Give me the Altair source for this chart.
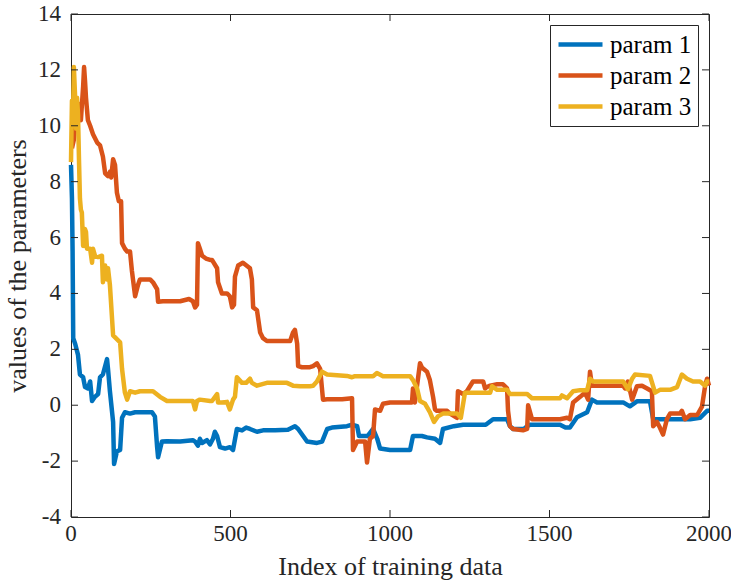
import altair as alt
import pandas as pd

# Parameter traces over the training index (step-like estimates)
p1_x = [0, 3, 5, 7, 13, 22, 28, 38, 44, 53, 60, 66, 75, 85, 91, 100, 113, 116, 122, 132, 135, 144, 154, 160,
        169, 185, 201, 223, 254, 263, 270, 273, 285, 300, 342, 382, 389, 398, 404, 411, 426, 436, 445, 451,
        458, 467, 483, 498, 508, 520, 536, 549, 561, 583, 602, 640, 680, 702, 712, 740, 771, 787, 803, 818,
        865, 881, 897, 903, 930, 947, 960, 969, 1000, 1063, 1072, 1100, 1116, 1141, 1157, 1166, 1200, 1229,
        1260, 1300, 1323, 1367, 1376, 1386, 1420, 1430, 1439, 1533, 1550, 1564, 1586, 1618, 1633, 1649,
        1731, 1752, 1774, 1815, 1825, 1846, 1941, 1972, 1994, 2000]
p1_y = [8.6, 7.4, 5.5, 2.4, 2.2, 1.8, 1.1, 1.0, 0.65, 0.6, 0.85, 0.15, 0.3, 0.4, 1.0, 1.1, 1.65, 1.3, 0.5,
        -0.6, -2.1, -1.65, -1.6, -0.45, -0.25, -0.3, -0.25, -0.25, -0.25, -0.4, -1.5, -1.86, -1.3, -1.29,
        -1.3, -1.25, -1.3, -1.45, -1.2, -1.35, -1.25, -1.4, -1.2, -0.95, -1.1, -1.5, -1.55, -1.5, -1.6,
        -0.85, -0.9, -0.8, -0.85, -0.95, -0.9, -0.9, -0.88, -0.75, -0.85, -1.3, -1.35, -1.3, -0.85, -0.8,
        -0.75, -0.7, -0.75, -1.1, -1.1, -0.85, -1.2, -1.55, -1.6, -1.6, -1.1, -1.1, -1.15, -1.2, -1.35,
        -0.85, -0.75, -0.7, -0.7, -0.7, -0.5, -0.5, -0.75, -0.85, -0.85, -0.75, -0.7, -0.7, -0.8, -0.8,
        -0.43, -0.25, 0.2, 0.1, 0.1, -0.04, 0.14, 0.14, -0.5, -0.5, -0.5, -0.45, -0.2, -0.2]

p2_x = [3, 9, 13, 19, 22, 28, 31, 38, 41, 44, 47, 53, 60, 69, 82, 91, 100, 107, 116, 122, 126, 132, 138,
        144, 150, 157, 160, 169, 176, 185, 191, 201, 210, 216, 248, 257, 270, 273, 288, 342, 370, 382, 389,
        395, 398, 404, 411, 423, 436, 442, 458, 461, 473, 489, 498, 505, 511, 514, 524, 539, 561, 567, 571,
        583, 593, 602, 614, 687, 696, 702, 709, 712, 724, 749, 759, 771, 781, 790, 803, 850, 881, 884, 897,
        922, 928, 937, 947, 953, 969, 978, 1000, 1069, 1072, 1078, 1094, 1100, 1116, 1125, 1135, 1141, 1147,
        1179, 1188, 1210, 1213, 1229, 1241, 1260, 1292, 1298, 1304, 1314, 1336, 1354, 1367, 1370, 1376,
        1386, 1417, 1430, 1433, 1445, 1533, 1555, 1564, 1574, 1596, 1611, 1621, 1627, 1633, 1649, 1731,
        1737, 1746, 1759, 1774, 1790, 1806, 1821, 1825, 1837, 1846, 1856, 1868, 1878, 1909, 1915, 1925,
        1941, 1963, 1978, 1988, 1994, 2000]
p2_y = [9.2, 9.5, 10.0, 10.2, 10.8, 10.6, 10.2, 11.4, 12.1, 11.6, 11.0, 10.2, 10.0, 9.7, 9.4, 9.3, 8.9,
        8.3, 8.2, 8.35, 8.15, 8.8, 8.6, 7.6, 7.3, 7.3, 5.8, 5.6, 5.5, 5.5, 4.8, 3.9, 4.3, 4.5, 4.5, 4.4,
        4.15, 3.7, 3.72, 3.72, 3.8, 3.72, 3.5, 3.6, 5.8, 5.6, 5.35, 5.25, 5.2, 5.2, 4.9, 4.4, 4.0, 4.0, 3.9,
        3.5, 3.6, 4.6, 5.0, 5.1, 4.9, 4.5, 3.5, 3.4, 2.6, 2.4, 2.3, 2.3, 2.6, 2.7, 2.2, 1.4, 1.36, 1.36,
        1.4, 1.5, 1.3, 0.2, 0.21, 0.21, 0.25, -1.6, -1.3, -1.3, -2.05, -1.2, -1.1, -0.15, -0.2, 0.05, 0.1,
        0.1, 0.6, 0.1, 1.5, 1.35, 1.2, 0.9, 0.3, -0.15, -0.2, -0.2, -0.3, -0.45, 0.5, 0.4, 0.5, 0.85, 0.85,
        0.6, 0.65, 0.7, 0.75, 0.75, 0.6, -0.2, -0.75, -0.85, -0.9, -0.85, 0.0, -0.5, -0.5, -0.45, -0.5, 0.1,
        0.3, 0.45, 0.2, 1.2, 0.7, 0.7, 0.7, 0.6, 0.85, 0.2, 0.68, 0.7, 0.6, 0.5, -0.75, -0.6, -0.8, -1.05,
        -0.5, -0.3, -0.3, -0.2, -0.5, -0.35, -0.35, -0.05, 0.7, 0.95, 0.7]

p3_x = [0, 3, 6, 9, 13, 16, 19, 22, 25, 28, 31, 34, 38, 41, 44, 47, 50, 53, 60, 66, 69, 75, 85, 97, 100,
        107, 113, 116, 122, 132, 154, 160, 169, 176, 185, 201, 216, 257, 279, 301, 382, 389, 395, 404, 436,
        442, 458, 461, 473, 489, 498, 508, 514, 520, 536, 549, 561, 567, 583, 614, 677, 696, 718, 749, 759,
        771, 787, 803, 865, 881, 890, 947, 959, 978, 1063, 1072, 1085, 1094, 1110, 1125, 1138, 1150, 1166,
        1210, 1222, 1235, 1260, 1314, 1320, 1336, 1367, 1376, 1430, 1445, 1533, 1539, 1555, 1574, 1596,
        1618, 1627, 1636, 1731, 1746, 1759, 1768, 1815, 1831, 1846, 1878, 1900, 1915, 1931, 1950, 1972,
        1988, 1994, 2000]
p3_y = [8.7, 10.9, 10.2, 12.1, 11.0, 9.9, 11.0, 10.4, 8.8, 7.4, 7.0, 6.9, 5.7, 6.2, 6.3, 6.2, 5.6, 5.6,
        5.6, 5.1, 5.6, 5.35, 5.3, 5.35, 4.4, 5.0, 4.5, 4.9, 4.3, 2.5, 2.25, 1.3, 0.45, 0.2, 0.5, 0.45, 0.5,
        0.5, 0.3, 0.15, 0.15, -0.15, 0.15, 0.2, 0.15, 0.15, 0.4, 0.1, 0.1, 0.12, -0.15, 0.2, 0.3, 1.0, 0.8,
        0.8, 0.95, 0.8, 0.7, 0.8, 0.8, 0.7, 0.68, 0.68, 0.7, 0.85, 1.2, 1.1, 1.05, 1.0, 1.04, 1.04, 1.15,
        1.04, 1.04, 0.9, 0.6, 0.15, 0.05, -0.25, -0.6, -0.4, -0.3, -0.3, -0.45, 0.45, 0.45, 0.45, 0.68, 0.55,
        0.55, 0.4, 0.4, 0.25, 0.25, 0.35, 0.25, 0.5, 0.54, 0.54, 0.95, 0.85, 0.85, 0.57, 0.95, 1.1, 1.05,
        0.45, 0.55, 0.55, 0.65, 1.1, 0.95, 0.85, 0.85, 0.7, 0.85, 0.85]

names = ["param 1", "param 2", "param 3"]
colors = ["#0072BD", "#D95319", "#EDB120"]

x_ticks = [0, 500, 1000, 1500, 2000]
y_ticks = [-4, -2, 0, 2, 4, 6, 8, 10, 12, 14]

frames = []
for name, xs, ys in zip(names, [p1_x, p2_x, p3_x], [p1_y, p2_y, p3_y]):
    frames.append(pd.DataFrame({"idx": xs, "val": ys, "series": name, "order": range(len(xs))}))
df = pd.concat(frames, ignore_index=True)

W, H = 638, 503
FONT = "Tinos"
INK = "#262626"

xscale = alt.Scale(domain=[0, 2000], nice=False, zero=False)
yscale = alt.Scale(domain=[-4, 14], nice=False, zero=False)

lines = alt.Chart(df).mark_line(strokeWidth=4.5, strokeJoin="round", strokeCap="butt").encode(
    x=alt.X("idx:Q", scale=xscale,
            axis=alt.Axis(values=x_ticks, title="Index of training data", tickSize=0, domain=False,
                          grid=False, labels=False, titlePadding=36, titleFont=FONT)),
    y=alt.Y("val:Q", scale=yscale,
            axis=alt.Axis(values=y_ticks, title="values of the parameters", tickSize=0, domain=False,
                          grid=False, labels=False, titlePadding=40, titleFont=FONT)),
    color=alt.Color("series:N", scale=alt.Scale(domain=names, range=colors),
                    legend=alt.Legend(title=None, orient="none", legendX=479, legendY=11)),
    order="order:Q",
)

# tick marks (inward, on all four sides) and tick labels
xt = pd.DataFrame({"t": x_ticks, "lab": [str(v) for v in x_ticks]})
yt = pd.DataFrame({"t": y_ticks, "lab": [str(v) for v in y_ticks]})
tick_style = dict(color=INK, strokeWidth=1)
xb = alt.Chart(xt).mark_rule(**tick_style).encode(x=alt.X("t:Q", scale=xscale), y=alt.value(H), y2=alt.value(H - 7))
xtop = alt.Chart(xt).mark_rule(**tick_style).encode(x=alt.X("t:Q", scale=xscale), y=alt.value(0), y2=alt.value(7))
yl = alt.Chart(yt).mark_rule(**tick_style).encode(y=alt.Y("t:Q", scale=yscale), x=alt.value(0), x2=alt.value(7))
yr = alt.Chart(yt).mark_rule(**tick_style).encode(y=alt.Y("t:Q", scale=yscale), x=alt.value(W), x2=alt.value(W - 7))

label_style = dict(font=FONT, fontSize=23, color=INK)
xlab = alt.Chart(xt).mark_text(align="center", baseline="top", **label_style).encode(
    x=alt.X("t:Q", scale=xscale), y=alt.value(H + 6), text="lab:N")
ylab = alt.Chart(yt).mark_text(align="right", baseline="middle", **label_style).encode(
    y=alt.Y("t:Q", scale=yscale), x=alt.value(-10), text="lab:N")

chart = alt.layer(lines, xb, xtop, yl, yr, xlab, ylab).properties(
    width=W, height=H,
    autosize=alt.AutoSizeParams(type="none"),
    padding={"left": 71, "top": 14, "right": 22, "bottom": 63},
    background="white",
).configure_view(
    stroke=INK, strokeWidth=1
).configure_axis(
    titleFont=FONT, titleFontSize=26, titleColor=INK, titleFontWeight="normal",
).configure_legend(
    symbolType="M-1,0H3", symbolSize=484, symbolStrokeWidth=4.5,
    labelFont=FONT, labelFontSize=25, labelColor="black", labelOffset=27,
    strokeColor=INK, fillColor="white", padding=6, rowPadding=4, cornerRadius=0,
)

chart.save("out.html", embed_options={"renderer": "svg", "actions": False})
